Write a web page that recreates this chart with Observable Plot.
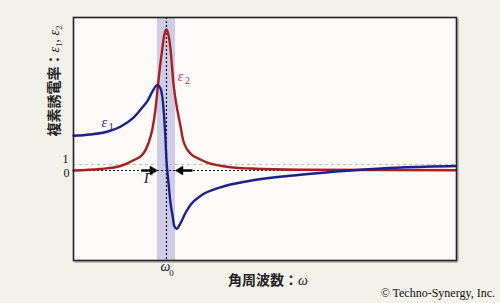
<!DOCTYPE html>
<html>
<head>
<meta charset="utf-8">
<script src="https://cdn.jsdelivr.net/npm/d3@7"></script>
<script src="https://cdn.jsdelivr.net/npm/@observablehq/plot@0.6"></script>
<style>
  html, body { margin: 0; padding: 0; background: #f2f1ea; }
  #chart svg { display: block; }
</style>
</head>
<body>
<div id="chart"></div>
<script>
// Lorentz-type resonance: real part ε1 and imaginary part ε2 vs angular frequency ω
const omega1 = [0, 0.18, 0.37, 0.505, 0.645, 0.74, 0.80, 0.85, 0.90, 0.935, 0.97, 0.99, 1.0, 1.02, 1.04, 1.065, 1.085, 1.11, 1.15, 1.20, 1.26, 1.37, 1.58, 1.90, 2.44, 2.98, 3.52, 4.12];
const eps1   = [5.8, 6.0, 6.5, 7.3, 8.8, 10.5, 11.7, 13.2, 14.2, 13.7, 10, 5, 1.7, -1.7, -5, -7.5, -9.3, -9.7, -8.8, -7.2, -5.7, -4.2, -2.8, -1.7, -0.7, 0, 0.5, 0.75];

const omega2 = [0, 0.29, 0.505, 0.645, 0.75, 0.805, 0.85, 0.88, 0.914, 0.957, 0.978, 1.0, 1.02, 1.043, 1.075, 1.118, 1.15, 1.18, 1.26, 1.37, 1.44, 1.72, 1.90, 2.44, 4.12];
const eps2   = [0, 0.25, 0.75, 1.7, 2.8, 4.5, 7, 10, 15, 20.5, 22.7, 23.5, 22.7, 20.3, 14.5, 10, 7.5, 5, 2.8, 1.8, 1.3, 0.5, 0.33, 0.12, 0.05];

// resonance frequency and damping band (Γ)
const omega0 = 1;
const bandLow = 0.903, bandHigh = 1.097;

const line1 = omega1.map((w, i) => ({w, e: eps1[i]}));
const line2 = omega2.map((w, i) => ({w, e: eps2[i]}));

const blue = "#1c2088";
const red = "#a5201f";
const serif = "'Liberation Serif', 'DejaVu Serif', serif";

const plot = Plot.plot({
  width: 500,
  height: 303,
  marginLeft: 73,
  marginRight: 44,
  marginTop: 17,
  marginBottom: 43,
  style: {background: "#f2f1ea", fontFamily: serif},
  x: {domain: [0, 4.12], axis: null},
  y: {domain: [-15, 25.5], axis: null},
  marks: [
    Plot.frame({fill: "#fcf9f9", stroke: "none"}),
    Plot.rect([{x1: bandLow, x2: bandHigh}], {x1: "x1", x2: "x2", fill: "#cfcce6"}),
    Plot.ruleY([1], {stroke: "#bdbdbd", strokeDasharray: "3,3", strokeWidth: 1}),
    Plot.ruleY([0], {stroke: "#111", strokeDasharray: "2,2", strokeWidth: 1.2}),
    Plot.ruleX([omega0], {stroke: "#111", strokeDasharray: "2,2", strokeWidth: 1.2}),
    Plot.line(line2, {x: "w", y: "e", stroke: red, strokeWidth: 2.4, curve: "monotone-x"}),
    Plot.line(line1, {x: "w", y: "e", stroke: blue, strokeWidth: 2.4, curve: "monotone-x"}),
    // Γ arrows pointing at the band edges
    Plot.link([{a: 0.73, b: 0.84}, {a: 1.28, b: 1.16}], {x1: "a", x2: "b", y1: 0, y2: 0, stroke: "#000", strokeWidth: 2.5}),
    Plot.dot([{w: 0.85, r: 90}, {w: 1.15, r: -90}], {x: "w", y: 0, rotate: "r", symbol: "triangle2", r: 4.2, fill: "#000", stroke: "#000", strokeWidth: 0.5}),
    Plot.text(["Γ"], {x: 0.80, y: -1.4, fontSize: 14, fontStyle: "italic", fill: "#111"}),
    // curve labels
    Plot.text(["ε"], {x: 0.33, y: 8.0, fontSize: 14, fontStyle: "italic", fill: blue}),
    Plot.text(["1"], {x: 0.33, y: 8.0, dx: 7, dy: 4, fontSize: 10, fill: blue}),
    Plot.text(["ε"], {x: 1.15, y: 15.6, fontSize: 14, fontStyle: "italic", fill: "#c5304a"}),
    Plot.text(["2"], {x: 1.15, y: 15.6, dx: 7, dy: 4, fontSize: 10, fill: "#c5304a"}),
    // y tick labels, nudged apart because the two levels are close
    Plot.text([1], {y: d => d, text: d => String(d), frameAnchor: "left", dx: -5, dy: -5, textAnchor: "end", fontSize: 12, fill: "#111"}),
    Plot.text([0], {y: d => d, text: d => String(d), frameAnchor: "left", dx: -4, dy: 3, textAnchor: "end", fontSize: 12, fill: "#111"}),
    // ω0 tick label
    Plot.text(["ω"], {x: omega0, frameAnchor: "bottom", dy: 10, dx: -1, fontSize: 14, fontStyle: "italic", fill: "#111"}),
    Plot.text(["0"], {x: omega0, frameAnchor: "bottom", dy: 15, dx: 5, fontSize: 9, fill: "#111"}),
    // frame with a soft drop shadow on right and bottom
    Plot.ruleY([-15], {stroke: "#aaa", strokeWidth: 1.5, dy: 1.5, dx: 1.5}),
    Plot.ruleX([4.12], {stroke: "#aaa", strokeWidth: 1.5, dx: 1.5, dy: 1.5}),
    Plot.frame({stroke: "#222", strokeWidth: 1.6})
  ]
});

const svg = d3.select(plot);

// y-axis title, rotated
const yTitle = svg.append("text")
  .attr("transform", "translate(59,81) rotate(-90)")
  .attr("text-anchor", "middle")
  .attr("fill", "#222")
  .attr("font-size", 14);
yTitle.append("tspan").attr("font-family", "'Noto Sans CJK JP', sans-serif").attr("font-weight", 700).text("複素誘電率：");
yTitle.append("tspan").attr("font-family", serif).attr("font-style", "italic").text("ε");
yTitle.append("tspan").attr("font-family", serif).attr("font-size", 9).attr("dy", 3).text("1");
yTitle.append("tspan").attr("font-family", serif).attr("dy", -3).text(", ");
yTitle.append("tspan").attr("font-family", serif).attr("font-style", "italic").text("ε");
yTitle.append("tspan").attr("font-family", serif).attr("font-size", 9).attr("dy", 3).text("2");

// x-axis title
const xTitle = svg.append("text")
  .attr("x", 268).attr("y", 285)
  .attr("text-anchor", "middle")
  .attr("fill", "#222")
  .attr("font-size", 14);
xTitle.append("tspan").attr("font-family", "'Noto Sans CJK JP', sans-serif").attr("font-weight", 700).text("角周波数：");
xTitle.append("tspan").attr("font-family", serif).attr("font-style", "italic").text("ω");

// credit line
svg.append("text")
  .attr("x", 495).attr("y", 297)
  .attr("text-anchor", "end")
  .attr("font-family", serif)
  .attr("font-size", 12)
  .attr("fill", "#111")
  .text("© Techno-Synergy, Inc.");

document.getElementById("chart").appendChild(plot);
</script>
</body>
</html>
